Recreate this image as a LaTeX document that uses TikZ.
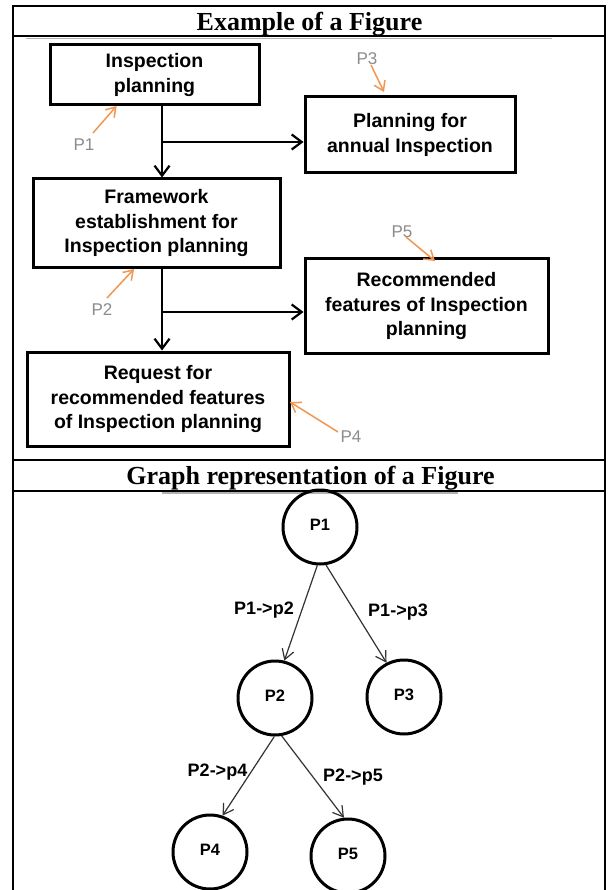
\documentclass[tikz,border=0pt]{standalone}
\usepackage{fontspec}
\setmainfont{Liberation Serif}
\setsansfont{Liberation Sans}
\usetikzlibrary{arrows.meta}
\definecolor{ann}{RGB}{242,150,80}
\definecolor{lbl}{RGB}{140,140,140}
\begin{document}
\begin{tikzpicture}[x=1pt,y=-1pt,
  rule/.style={line width=2pt, black},
  boxnode/.style={draw, line width=3pt, rectangle, align=center, inner sep=0pt,
    font=\sffamily\bfseries\fontsize{19.5}{24.5}\selectfont},
  flow/.style={line width=2.4pt, -{Straight Barb[length=10pt,width=15pt,line width=2.2pt]}},
  annlbl/.style={text=lbl, inner sep=0pt, font=\sffamily\fontsize{17}{18}\selectfont},
  annarrow/.style={draw=ann, line width=1.5pt, -{Straight Barb[length=9pt,width=12pt,line width=1.5pt]}},
  titletext/.style={anchor=base, inner sep=0pt, font=\rmfamily\bfseries\fontsize{26}{30}\selectfont},
  circ/.style={draw, circle, line width=3pt, minimum size=74pt, inner sep=0pt,
    font=\sffamily\bfseries\fontsize{16.5}{18}\selectfont},
  gedge/.style={line width=1.2pt, draw=black!80, -{Straight Barb[length=10pt,width=12pt,line width=1.2pt]}},
  elbl/.style={inner sep=0pt, font=\sffamily\bfseries\fontsize{18}{20}\selectfont}]
\useasboundingbox (0,0) rectangle (609,890);
\fill[white] (0,0) rectangle (609,890);
% table
\draw[rule] (12.5,6) -- (605,6);
\draw[rule] (12.5,5) -- (12.5,890);
\draw[rule] (605,5) -- (605,890);
\draw[rule] (12.5,36.5) -- (605,36.5);
\draw[rule] (12.5,460) -- (605,460);
\draw[rule] (12.5,491) -- (605,491);
\draw[gray!60, line width=1.5pt] (26,38.5) -- (552,38.5);
\draw[gray!60, line width=1.2pt] (162,493) -- (458,493);
\node[titletext] (t1) at (309.5,31) {Example of a Figure};
\node[titletext] (t2) at (310.5,484) {Graph representation of a Figure};
% flowchart boxes
\node[boxnode, minimum width=209pt, minimum height=60pt] (b1) at (154.5,75) {Inspection\\planning};
\node[boxnode, minimum width=210pt, minimum height=76pt] (b3) at (410,135) {Planning for\\annual Inspection};
\node[boxnode, minimum width=247pt, minimum height=89pt] (b2) at (156.5,223.5) {Framework\\establishment for\\Inspection planning};
\node[boxnode, minimum width=243pt, minimum height=94pt] (b5) at (426.5,306) {Recommended\\features of Inspection\\planning};
\node[boxnode, minimum width=262pt, minimum height=94pt] (b4) at (158,399) {Request for\\recommended features\\of Inspection planning};
\coordinate (j1) at (162,142);
\coordinate (j2) at (162,312);
\draw[flow] (b1.south -| j1) -- (b2.north -| j1);
\draw[flow] (j1) -- (b3.west |- j1);
\draw[flow] (b2.south -| j2) -- (b4.north -| j2);
\draw[flow] (j2) -- (b5.west |- j2);
% annotations
\node[annlbl] (l1) at (84,145) {P1};
\node[annlbl] (l3) at (367,59) {P3};
\node[annlbl] (l2) at (102,310) {P2};
\node[annlbl] (l5) at (402,232) {P5};
\node[annlbl] (l4) at (351,437) {P4};
\coordinate (s1) at (93,133);  \coordinate (e1) at (116.5,106);
\coordinate (s3) at (371,65);  \coordinate (e3) at (384,92);
\coordinate (s2) at (107,298); \coordinate (e2) at (134,269);
\coordinate (s5) at (406,237); \coordinate (e5) at (435,261);
\coordinate (s4) at (338,432); \coordinate (e4) at (290,402);
\draw[annarrow] (s1) -- (e1);
\draw[annarrow] (s3) -- (e3);
\draw[annarrow] (s2) -- (e2);
\draw[annarrow] (s5) -- (e5);
\draw[annarrow] (s4) -- (e4);
% graph
\node[circ] (g1) at (320,527) {\raisebox{4pt}{P1}};
\node[circ] (g2) at (275,698) {\raisebox{4pt}{P2}};
\node[circ] (g3) at (404,697) {\raisebox{4pt}{P3}};
\node[circ] (g4) at (210,852) {\raisebox{4pt}{P4}};
\node[circ] (g5) at (348,856) {\raisebox{4pt}{P5}};
\draw[gedge] (g1.-94) -- (g2.76);
\draw[gedge] (g1.-81) -- (g3.117);
\draw[gedge] (g2.-91) -- (g4.71);
\draw[gedge] (g2.-80) -- (g5.96);
\node[elbl] (x12) at (264,610) {P1->p2};
\node[elbl] (x13) at (398,612) {P1->p3};
\node[elbl] (x24) at (217.5,772) {P2->p4};
\node[elbl] (x25) at (353,777) {P2->p5};
\end{tikzpicture}
\end{document}
